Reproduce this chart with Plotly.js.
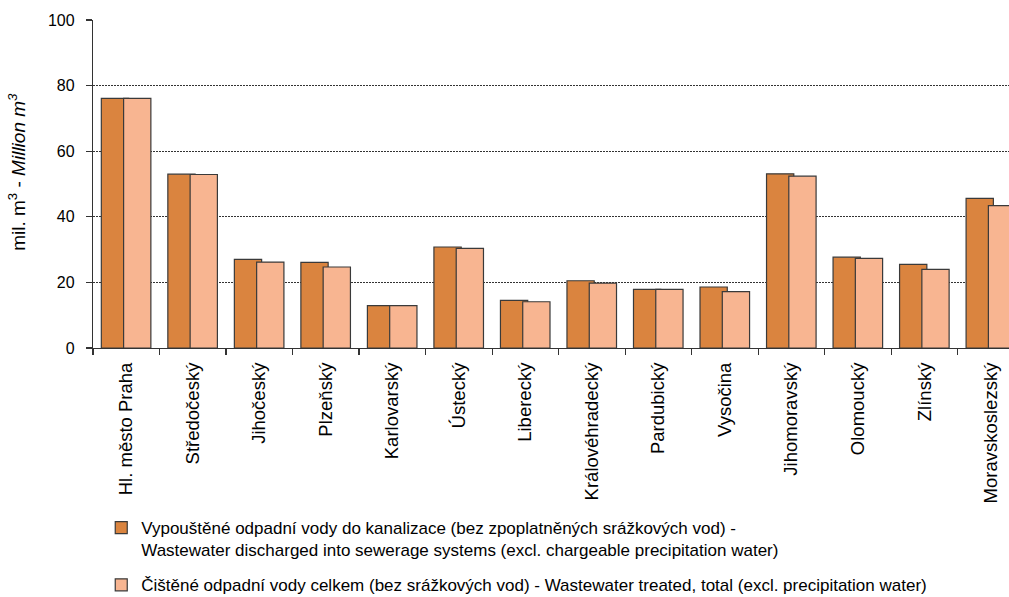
<!DOCTYPE html>
<html>
<head>
<meta charset="utf-8">
<script src="https://cdn.plot.ly/plotly-3.0.1.min.js"></script>
<style>
  html, body { margin: 0; padding: 0; background: #fff; }
  #chart { width: 1009px; height: 597px; }
</style>
</head>
<body>
<div id="chart"></div>
<script>
// Regions (kraje)
const regions = [
  'Hl. město Praha', 'Středočeský', 'Jihočeský', 'Plzeňský', 'Karlovarský',
  'Ústecký', 'Liberecký', 'Královéhradecký', 'Pardubický', 'Vysočina',
  'Jihomoravský', 'Olomoucký', 'Zlínský', 'Moravskoslezský'
];

// Wastewater discharged into sewerage systems, mil. m3
const discharged = [76.1, 53.0, 27.0, 26.1, 12.9, 30.8, 14.5, 20.5, 17.9, 18.6, 53.1, 27.7, 25.5, 45.6];

// Wastewater treated, total, mil. m3
const treated = [76.1, 52.9, 26.2, 24.7, 12.9, 30.4, 14.1, 19.8, 17.9, 17.2, 52.4, 27.3, 24.0, 43.4];

const seriesNames = [
  'Vypouštěné odpadní vody do kanalizace (bez zpoplatněných srážkových vod) -<br>Wastewater discharged into sewerage systems (excl. chargeable precipitation water)',
  'Čištěné odpadní vody celkem (bez srážkových vod) - Wastewater treated, total (excl. precipitation water)'
];

const yTicks = [0, 20, 40, 60, 80, 100];
const gridTicks = [20, 40, 60, 80];

const FONT = 'Liberation Sans, Arial, sans-serif';
const edge = { color: '#3a3a3a', width: 1.2 };

const traces = [
  {
    type: 'bar', x: regions, y: discharged, name: seriesNames[0],
    legendgroup: 'a',
    marker: { color: '#DA843F', line: edge },
    width: 0.41, offset: -0.375,
    hoverinfo: 'x+y'
  },
  {
    type: 'bar', x: regions, y: treated, name: seriesNames[1],
    legendgroup: 'b',
    marker: { color: '#F8B591', line: edge },
    width: 0.41, offset: -0.04,
    hoverinfo: 'x+y'
  },
  // carrier for the dashed grid (drawn on an overlaid axis)
  {
    type: 'scatter', x: [regions[0]], y: [0], yaxis: 'y2',
    mode: 'markers', marker: { opacity: 0 }, showlegend: false, hoverinfo: 'skip'
  }
];

const layout = {
  width: 1009, height: 597,
  margin: { l: 93, r: 0, t: 20, b: 249, autoexpand: false },
  paper_bgcolor: '#ffffff', plot_bgcolor: '#ffffff',
  font: { family: FONT, size: 16, color: '#000' },
  barmode: 'overlay',
  showlegend: true,
  xaxis: {
    type: 'category',
    range: [-0.5, 13.27],
    showline: true, linecolor: '#333', linewidth: 1.2,
    ticks: 'outside', tickson: 'boundaries', ticklen: 6, tickcolor: '#333', tickwidth: 1.2,
    tickangle: -90,
    ticklabelstandoff: 6,
    tickfont: { family: FONT, size: 18.5, color: '#000' },
    showgrid: false, fixedrange: true
  },
  yaxis: {
    range: [0, 100],
    tickvals: yTicks,
    showline: true, linecolor: '#333', linewidth: 1.2,
    ticks: 'outside', ticklen: 6, tickcolor: '#333', tickwidth: 1.2,
    tickfont: { family: FONT, size: 16, color: '#000' },
    showgrid: false, zeroline: false, fixedrange: true,
    ticklabelstandoff: 8
  },
  yaxis2: {
    overlaying: 'y', side: 'left',
    range: [0, 100],
    tickvals: gridTicks,
    showticklabels: false, ticks: '',
    showgrid: true, gridcolor: '#333', gridwidth: 1, griddash: '2px,1px',
    zeroline: false, showline: false, fixedrange: true
  },
  legend: {
    orientation: 'v',
    x: 0.009, xanchor: 'left',
    y: -0.494, yanchor: 'top',
    valign: 'top',
    tracegroupgap: 10,
    itemwidth: 30,
    font: { family: FONT, size: 17, color: '#000' },
    bgcolor: 'rgba(0,0,0,0)'
  },
  annotations: [
    {
      xref: 'paper', yref: 'paper',
      x: -0.083, y: 0.537,
      xanchor: 'center', yanchor: 'middle',
      textangle: -90, showarrow: false,
      text: 'mil. m<sup>3</sup> - <i>Million m<sup>3</sup></i>',
      font: { family: FONT, size: 19, color: '#000' }
    }
  ]
};

Plotly.newPlot('chart', traces, layout, { displayModeBar: false, staticPlot: true });
</script>
</body>
</html>
